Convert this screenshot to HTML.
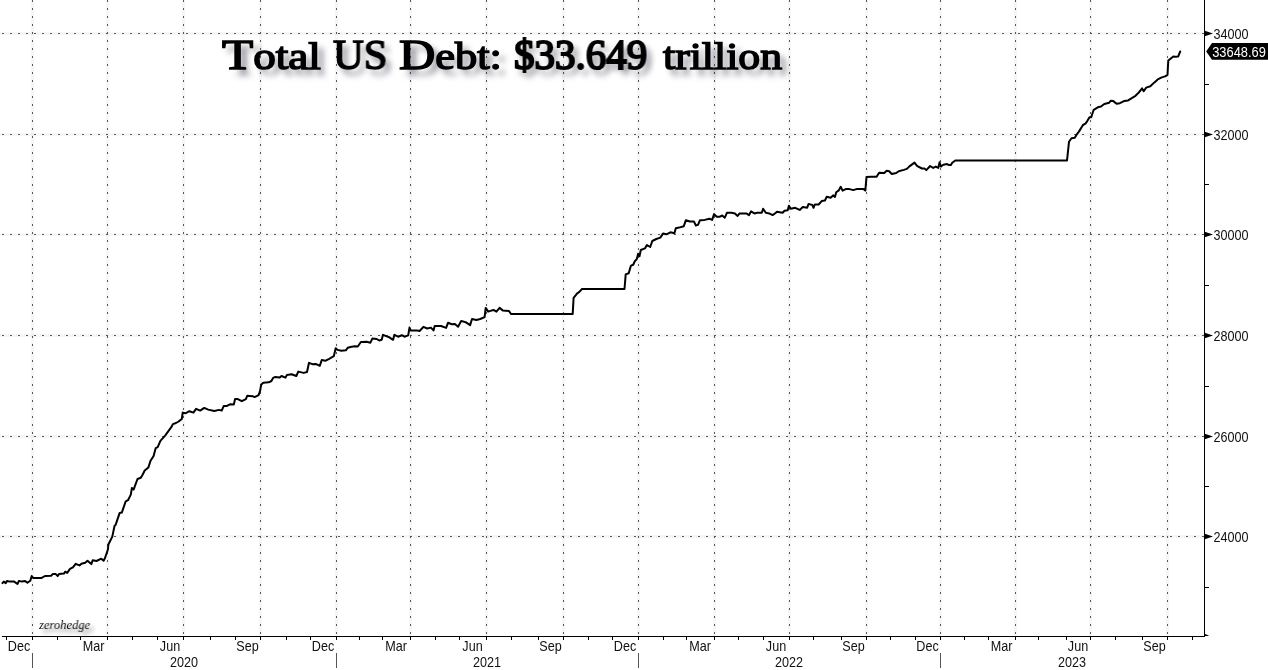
<!DOCTYPE html><html><head><meta charset="utf-8"><style>
html,body{margin:0;padding:0;background:#fff;}
body{width:1268px;height:670px;overflow:hidden;position:relative;}
svg{position:absolute;left:0;top:0;will-change:transform;}
.t{position:absolute;white-space:nowrap;will-change:transform;}
.title{font-family:"Liberation Serif",serif;font-weight:normal;-webkit-text-stroke:1.5px #000;font-size:38.0px;line-height:60px;color:#000;transform-origin:0 0;text-shadow:5px 6px 6px rgba(30,30,50,0.6);}
.c{font-size:43.0px;}
.zh{font-family:"Liberation Serif",serif;font-style:italic;font-size:13px;color:#111;left:38.5px;top:617px;transform:scaleX(0.965);transform-origin:0 0;text-shadow:4px 4px 4px rgba(0,0,0,0.45);}
</style></head><body>
<svg width="1268" height="670" viewBox="0 0 1268 670" font-family="Liberation Sans, sans-serif" font-size="13">
<g fill="#000" fill-opacity="0.035" shape-rendering="crispEdges"><rect x="31" y="0" width="3" height="636"/><rect x="106" y="0" width="3" height="636"/><rect x="182" y="0" width="3" height="636"/><rect x="259" y="0" width="3" height="636"/><rect x="335" y="0" width="3" height="636"/><rect x="409" y="0" width="3" height="636"/><rect x="485" y="0" width="3" height="636"/><rect x="562" y="0" width="3" height="636"/><rect x="637" y="0" width="3" height="636"/><rect x="713" y="0" width="3" height="636"/><rect x="788" y="0" width="3" height="636"/><rect x="865" y="0" width="3" height="636"/><rect x="939" y="0" width="3" height="636"/><rect x="1014" y="0" width="3" height="636"/><rect x="1089" y="0" width="3" height="636"/><rect x="1166" y="0" width="3" height="636"/><rect x="0" y="32" width="1204" height="3"/><rect x="0" y="133" width="1204" height="3"/><rect x="0" y="233" width="1204" height="3"/><rect x="0" y="334" width="1204" height="3"/><rect x="0" y="435" width="1204" height="3"/><rect x="0" y="535" width="1204" height="3"/></g>
<g stroke="#585858" stroke-width="1" stroke-dasharray="2 6" shape-rendering="crispEdges"><line x1="32.5" y1="0" x2="32.5" y2="636"/><line x1="107.5" y1="0" x2="107.5" y2="636"/><line x1="183.5" y1="0" x2="183.5" y2="636"/><line x1="260.5" y1="0" x2="260.5" y2="636"/><line x1="336.5" y1="0" x2="336.5" y2="636"/><line x1="410.5" y1="0" x2="410.5" y2="636"/><line x1="486.5" y1="0" x2="486.5" y2="636"/><line x1="563.5" y1="0" x2="563.5" y2="636"/><line x1="638.5" y1="0" x2="638.5" y2="636"/><line x1="714.5" y1="0" x2="714.5" y2="636"/><line x1="789.5" y1="0" x2="789.5" y2="636"/><line x1="866.5" y1="0" x2="866.5" y2="636"/><line x1="940.5" y1="0" x2="940.5" y2="636"/><line x1="1015.5" y1="0" x2="1015.5" y2="636"/><line x1="1090.5" y1="0" x2="1090.5" y2="636"/><line x1="1167.5" y1="0" x2="1167.5" y2="636"/></g>
<g stroke="#585858" stroke-width="1" stroke-dasharray="2 6" stroke-dashoffset="6" shape-rendering="crispEdges"><line x1="0" y1="33.5" x2="1204" y2="33.5"/><line x1="0" y1="134.5" x2="1204" y2="134.5"/><line x1="0" y1="234.5" x2="1204" y2="234.5"/><line x1="0" y1="335.5" x2="1204" y2="335.5"/><line x1="0" y1="436.5" x2="1204" y2="436.5"/><line x1="0" y1="536.5" x2="1204" y2="536.5"/></g>
<g stroke="#000" stroke-width="1" shape-rendering="crispEdges">
<line x1="2" y1="636.5" x2="1205" y2="636.5"/>
<line x1="1204.5" y1="0" x2="1204.5" y2="637"/>
<line x1="6.5" y1="637" x2="6.5" y2="640"/>
<line x1="32.5" y1="637" x2="32.5" y2="640"/>
<line x1="57.5" y1="637" x2="57.5" y2="640"/>
<line x1="80.5" y1="637" x2="80.5" y2="640"/>
<line x1="107.5" y1="637" x2="107.5" y2="640"/>
<line x1="132.5" y1="637" x2="132.5" y2="640"/>
<line x1="157.5" y1="637" x2="157.5" y2="640"/>
<line x1="183.5" y1="637" x2="183.5" y2="640"/>
<line x1="210.5" y1="637" x2="210.5" y2="640"/>
<line x1="235.5" y1="637" x2="235.5" y2="640"/>
<line x1="260.5" y1="637" x2="260.5" y2="640"/>
<line x1="286.5" y1="637" x2="286.5" y2="640"/>
<line x1="310.5" y1="637" x2="310.5" y2="640"/>
<line x1="336.5" y1="637" x2="336.5" y2="640"/>
<line x1="359.5" y1="637" x2="359.5" y2="640"/>
<line x1="382.5" y1="637" x2="382.5" y2="640"/>
<line x1="410.5" y1="637" x2="410.5" y2="640"/>
<line x1="435.5" y1="637" x2="435.5" y2="640"/>
<line x1="459.5" y1="637" x2="459.5" y2="640"/>
<line x1="486.5" y1="637" x2="486.5" y2="640"/>
<line x1="511.5" y1="637" x2="511.5" y2="640"/>
<line x1="538.5" y1="637" x2="538.5" y2="640"/>
<line x1="563.5" y1="637" x2="563.5" y2="640"/>
<line x1="588.5" y1="637" x2="588.5" y2="640"/>
<line x1="612.5" y1="637" x2="612.5" y2="640"/>
<line x1="638.5" y1="637" x2="638.5" y2="640"/>
<line x1="663.5" y1="637" x2="663.5" y2="640"/>
<line x1="686.5" y1="637" x2="686.5" y2="640"/>
<line x1="714.5" y1="637" x2="714.5" y2="640"/>
<line x1="738.5" y1="637" x2="738.5" y2="640"/>
<line x1="763.5" y1="637" x2="763.5" y2="640"/>
<line x1="789.5" y1="637" x2="789.5" y2="640"/>
<line x1="813.5" y1="637" x2="813.5" y2="640"/>
<line x1="841.5" y1="637" x2="841.5" y2="640"/>
<line x1="866.5" y1="637" x2="866.5" y2="640"/>
<line x1="890.5" y1="637" x2="890.5" y2="640"/>
<line x1="915.5" y1="637" x2="915.5" y2="640"/>
<line x1="940.5" y1="637" x2="940.5" y2="640"/>
<line x1="964.5" y1="637" x2="964.5" y2="640"/>
<line x1="988.5" y1="637" x2="988.5" y2="640"/>
<line x1="1015.5" y1="637" x2="1015.5" y2="640"/>
<line x1="1038.5" y1="637" x2="1038.5" y2="640"/>
<line x1="1066.5" y1="637" x2="1066.5" y2="640"/>
<line x1="1090.5" y1="637" x2="1090.5" y2="640"/>
<line x1="1115.5" y1="637" x2="1115.5" y2="640"/>
<line x1="1142.5" y1="637" x2="1142.5" y2="640"/>
<line x1="1167.5" y1="637" x2="1167.5" y2="640"/>
<line x1="1192.5" y1="637" x2="1192.5" y2="640"/>
<line x1="1205" y1="84.5" x2="1209" y2="84.5"/>
<line x1="1205" y1="184.5" x2="1209" y2="184.5"/>
<line x1="1205" y1="285.5" x2="1209" y2="285.5"/>
<line x1="1205" y1="386.5" x2="1209" y2="386.5"/>
<line x1="1205" y1="486.5" x2="1209" y2="486.5"/>
<line x1="1205" y1="587.5" x2="1209" y2="587.5"/>
</g>
<g stroke="#555" stroke-width="1" shape-rendering="crispEdges">
<line x1="32.5" y1="653" x2="32.5" y2="668"/>
<line x1="336.5" y1="653" x2="336.5" y2="668"/>
<line x1="638.5" y1="653" x2="638.5" y2="668"/>
<line x1="940.5" y1="653" x2="940.5" y2="668"/>
</g>
<g fill="#000"><path d="M1204 30.5L1213 33.5L1204 36.5Z"/><path d="M1204 131.5L1213 134.5L1204 137.5Z"/><path d="M1204 231.5L1213 234.5L1204 237.5Z"/><path d="M1204 332.5L1213 335.5L1204 338.5Z"/><path d="M1204 433.5L1213 436.5L1204 439.5Z"/><path d="M1204 533.5L1213 536.5L1204 539.5Z"/><path d="M1204 633.6L1208.6 635.6L1208.6 636L1204 636Z"/></g>
<g fill="#111" font-size="14">
<text transform="translate(1213.4 39) scale(0.9 1)">34000</text>
<text transform="translate(1213.4 140) scale(0.9 1)">32000</text>
<text transform="translate(1213.4 240) scale(0.9 1)">30000</text>
<text transform="translate(1213.4 341) scale(0.9 1)">28000</text>
<text transform="translate(1213.4 442) scale(0.9 1)">26000</text>
<text transform="translate(1213.4 542) scale(0.9 1)">24000</text>
</g>
<g fill="#111" text-anchor="middle" font-size="14">
<text transform="translate(19.0 651) scale(0.9 1)">Dec</text>
<text transform="translate(93.5 651) scale(0.9 1)">Mar</text>
<text transform="translate(170.0 651) scale(0.9 1)">Jun</text>
<text transform="translate(247.5 651) scale(0.9 1)">Sep</text>
<text transform="translate(323.0 651) scale(0.9 1)">Dec</text>
<text transform="translate(396.0 651) scale(0.9 1)">Mar</text>
<text transform="translate(472.5 651) scale(0.9 1)">Jun</text>
<text transform="translate(550.5 651) scale(0.9 1)">Sep</text>
<text transform="translate(625.0 651) scale(0.9 1)">Dec</text>
<text transform="translate(700.0 651) scale(0.9 1)">Mar</text>
<text transform="translate(776.0 651) scale(0.9 1)">Jun</text>
<text transform="translate(853.5 651) scale(0.9 1)">Sep</text>
<text transform="translate(927.5 651) scale(0.9 1)">Dec</text>
<text transform="translate(1001.5 651) scale(0.9 1)">Mar</text>
<text transform="translate(1078.0 651) scale(0.9 1)">Jun</text>
<text transform="translate(1154.5 651) scale(0.9 1)">Sep</text>
<text transform="translate(184.0 667) scale(0.9 1)">2020</text>
<text transform="translate(487.0 667) scale(0.9 1)">2021</text>
<text transform="translate(789.0 667) scale(0.9 1)">2022</text>
<text transform="translate(1072.0 667) scale(0.9 1)">2023</text>
</g>
<path d="M1206.2 51.4L1212 43.1L1268 43.1L1268 59.7L1212 59.7Z" fill="#000"/>
<text transform="translate(1212.2 57) scale(0.92 1)" fill="#fff" font-size="14">33648.69</text>
<path d="M2.4 583.1 L3.8 581.6 L5.7 583.1 L7.1 580.9 L9.5 581.6 L14.2 581.6 L17.5 584.0 L18.9 580.9 L21.8 581.6 L25.1 580.9 L27.4 582.8 L30.3 580.7 L31.7 576.0 L33.1 577.9 L41.6 577.9 L45.0 576.0 L51.1 575.8 L53.0 573.9 L55.8 574.1 L57.7 576.0 L59.1 573.9 L63.9 573.6 L65.3 571.7 L67.2 572.9 L70.0 568.9 L72.9 567.4 L75.7 563.8 L79.5 565.4 L81.4 563.7 L85.2 562.7 L87.5 560.8 L91.3 564.1 L92.7 560.3 L96.5 561.0 L101.3 558.7 L103.6 560.8 L105.0 558.0 L107.9 549.5 L108.4 544.5 L112.3 536.6 L114.5 526.0 L115.6 524.9 L119.6 513.1 L121.8 512.6 L125.7 501.4 L128.0 500.2 L130.8 494.6 L131.9 487.9 L133.6 489.6 L137.5 479.0 L140.8 477.8 L142.6 474.7 L144.7 470.5 L148.4 467.4 L150.4 461.1 L153.6 455.9 L155.7 448.1 L157.7 447.1 L160.4 440.8 L165.1 435.6 L168.2 431.4 L171.3 427.2 L172.9 424.1 L176.0 423.0 L178.6 421.5 L181.8 418.9 L182.7 412.6 L185.4 413.3 L189.4 411.2 L193.4 412.6 L196.1 408.8 L200.2 410.6 L204.2 407.9 L208.2 409.6 L214.3 411.0 L219.0 409.9 L221.7 410.6 L223.7 406.1 L227.0 405.9 L230.4 404.2 L233.8 404.5 L235.1 399.1 L237.8 399.1 L241.8 401.2 L245.9 399.1 L247.2 395.8 L252.6 396.2 L254.6 397.1 L258.6 395.1 L260.0 391.1 L261.3 384.4 L263.3 382.7 L268.7 382.3 L271.4 381.0 L273.4 377.6 L275.4 377.0 L279.5 377.6 L281.5 376.0 L285.5 377.6 L286.9 374.9 L291.6 374.3 L296.3 376.0 L298.3 371.6 L303.7 372.9 L307.0 372.0 L309.0 362.8 L312.4 364.2 L315.8 363.9 L319.8 365.8 L321.8 359.9 L325.2 360.8 L329.2 358.8 L333.8 356.2 L335.7 348.3 L337.6 349.9 L341.4 350.8 L345.8 350.3 L347.7 347.8 L351.5 346.8 L355.2 346.2 L357.8 346.5 L360.9 342.0 L366.6 341.7 L370.4 342.7 L372.3 338.6 L376.7 339.0 L379.2 340.5 L381.7 339.8 L383.0 334.8 L386.8 336.4 L389.3 337.3 L393.1 339.8 L394.4 334.8 L398.1 336.7 L401.9 335.2 L404.4 336.7 L408.2 335.4 L409.5 327.6 L410.8 330.6 L417.1 330.6 L419.6 331.0 L423.4 326.8 L427.2 328.5 L430.9 327.6 L433.5 330.4 L434.7 326.0 L441.0 326.0 L446.1 327.9 L448.0 322.8 L451.8 324.3 L454.9 324.1 L458.1 326.8 L461.2 320.9 L465.6 322.2 L470.1 325.1 L472.0 319.0 L476.4 320.0 L480.2 319.0 L484.6 317.1 L485.7 307.9 L488.2 311.6 L491.4 310.6 L493.9 310.1 L496.4 311.6 L499.6 307.9 L502.7 310.4 L509.0 311.0 L511.0 314.0 L572.7 314.0 L573.6 297.8 L577.2 293.3 L579.1 292.1 L582.0 289.0 L624.5 289.0 L625.7 274.4 L628.7 273.3 L630.8 265.9 L633.4 264.5 L634.8 261.2 L636.8 259.1 L638.1 253.8 L639.5 256.2 L640.8 250.0 L644.9 248.4 L646.9 245.0 L650.2 247.0 L652.3 241.0 L656.3 239.0 L660.3 237.6 L663.0 233.6 L666.4 234.3 L670.4 232.3 L674.4 233.3 L675.8 228.2 L679.1 227.6 L683.8 226.2 L685.9 220.2 L689.9 221.5 L693.9 221.5 L695.9 225.5 L698.0 224.9 L700.0 220.2 L704.7 219.9 L709.4 218.8 L712.1 219.9 L714.1 214.1 L716.8 216.8 L719.5 216.8 L722.2 215.5 L724.8 217.7 L726.9 212.8 L731.6 212.8 L734.9 213.4 L737.6 215.9 L739.6 213.4 L746.3 213.4 L749.0 215.1 L751.0 211.4 L754.4 213.4 L757.1 212.8 L761.8 212.8 L763.1 208.7 L765.8 212.8 L769.2 213.4 L772.6 215.1 L775.9 212.8 L776.9 211.8 L782.6 212.8 L784.5 210.8 L787.7 210.3 L788.9 205.8 L790.8 208.7 L795.2 207.8 L799.7 209.9 L802.8 207.0 L807.2 207.8 L808.5 204.0 L812.3 204.9 L813.5 207.8 L814.8 204.5 L818.6 204.5 L821.7 201.1 L824.9 200.5 L826.8 196.7 L830.6 197.7 L833.1 195.4 L835.0 196.9 L836.2 192.3 L838.8 190.4 L840.7 186.8 L842.6 190.6 L845.7 189.1 L849.5 189.1 L853.3 190.1 L857.1 188.9 L860.2 189.1 L863.4 188.9 L865.3 190.6 L866.5 177.1 L870.9 176.8 L876.6 176.8 L879.1 172.7 L884.2 173.0 L886.7 170.8 L889.2 171.2 L891.8 174.0 L896.2 173.0 L898.7 171.2 L903.8 169.9 L906.9 168.9 L909.4 166.4 L914.5 162.6 L917.0 165.8 L921.9 168.5 L924.4 168.5 L926.3 170.1 L930.1 166.0 L933.2 167.9 L935.8 166.6 L938.3 167.9 L939.6 162.2 L940.8 166.6 L943.3 164.7 L947.1 164.1 L949.0 165.1 L950.9 165.1 L952.2 162.8 L955.3 160.5 L1067.0 160.5 L1069.0 141.8 L1071.5 138.2 L1074.8 137.7 L1076.4 134.9 L1078.9 131.6 L1083.0 125.0 L1085.4 123.7 L1087.1 121.3 L1089.5 117.2 L1091.2 117.2 L1093.7 109.8 L1097.8 107.3 L1101.0 106.5 L1104.3 104.0 L1109.2 102.7 L1110.9 100.7 L1113.3 101.1 L1116.6 103.7 L1119.9 103.2 L1124.0 101.1 L1128.1 100.4 L1132.2 97.8 L1135.5 95.8 L1138.8 92.5 L1142.1 88.4 L1143.7 91.2 L1146.2 87.6 L1150.3 86.3 L1154.4 82.4 L1157.7 79.4 L1161.8 77.4 L1165.1 76.4 L1167.5 74.8 L1168.3 60.5 L1173.3 56.4 L1174.9 56.7 L1178.2 56.4 L1180.2 51.5" fill="none" stroke="#000" stroke-width="2" stroke-linejoin="round" stroke-linecap="round"/>
</svg>
<div class="t title" style="left:222.20px;top:25.3px;transform:scaleX(1.1880);"><span class=c>T</span>otal</div>
<div class="t title" style="left:333.10px;top:25.3px;transform:scaleX(0.9906);"><span class=c>US</span></div>
<div class="t title" style="left:399.40px;top:25.3px;transform:scaleX(1.1686);"><span class=c>D</span>ebt:</div>
<div class="t title" style="left:514.05px;top:25.3px;transform:scaleX(0.9529);-webkit-text-stroke-width:2.1px;"><span class=c>$33.649</span></div>
<div class="t title" style="left:662.60px;top:25.8px;transform:scaleX(1.1510);">trillion</div>
<div class="t zh">zerohedge</div>
</body></html>
